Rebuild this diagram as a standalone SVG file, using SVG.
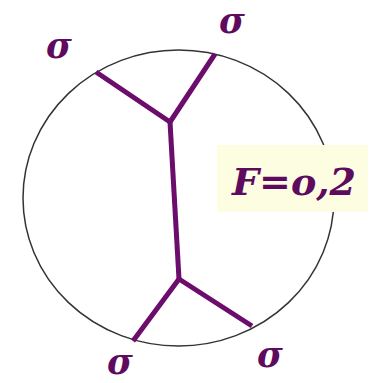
<svg xmlns="http://www.w3.org/2000/svg" width="373" height="383" viewBox="0 0 373 383">
<style>
.edge{stroke:#6c0c6c;stroke-width:5;fill:none;stroke-linecap:butt;stroke-linejoin:round}
.sig{font-family:"DejaVu Serif",serif;font-weight:bold;font-style:italic;font-size:35px;fill:#5e0a5e;text-anchor:middle}
</style>
<rect width="373" height="383" fill="#ffffff"/>
<g id="circle"><ellipse cx="178.5" cy="198" rx="155.5" ry="148" fill="none" stroke="#333333" stroke-width="1.5"/></g>
<g id="connectors">
<polyline class="edge" points="96,72 170,122 215,54"/>
<line class="edge" x1="170" y1="122" x2="179" y2="279"/>
<polyline class="edge" points="133,341 179,279 252,326"/>
</g>
<g id="label">
<rect x="217" y="145" width="151" height="67" fill="#fdfde2"/>
<text x="294" y="195" font-family="DejaVu Serif,serif" font-weight="bold" font-style="italic" font-size="37" fill="#5e0a5e" text-anchor="middle" textLength="124" lengthAdjust="spacingAndGlyphs">F=o,2</text>
</g>
<g id="s1"><text class="sig" x="59" y="58">σ</text></g>
<g id="s2"><text class="sig" x="232" y="33">σ</text></g>
<g id="s3"><text class="sig" x="120" y="374">σ</text></g>
<g id="s4"><text class="sig" x="270" y="367">σ</text></g>
</svg>
